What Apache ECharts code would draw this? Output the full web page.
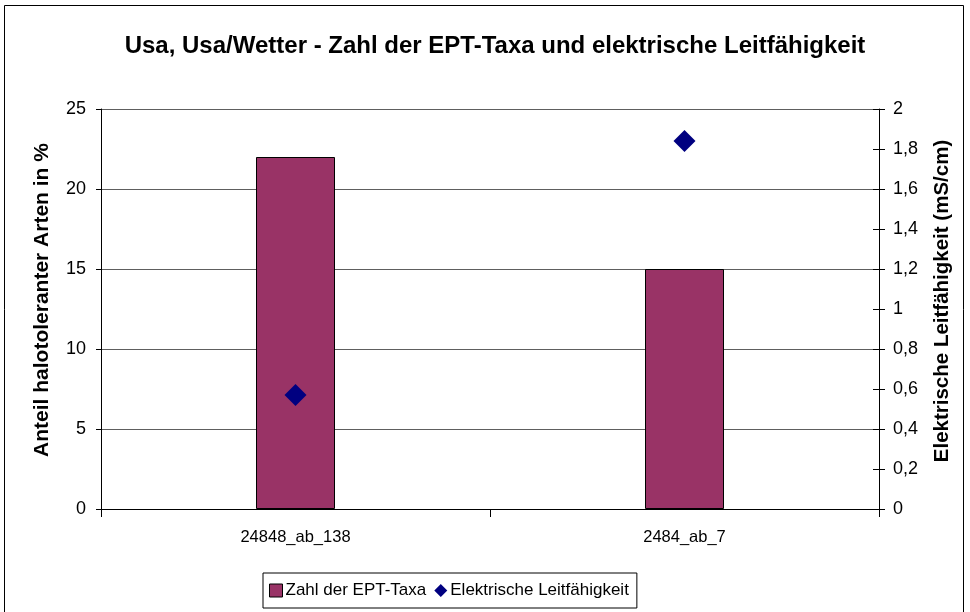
<!DOCTYPE html>
<html>
<head>
<meta charset="utf-8">
<script src="https://cdn.jsdelivr.net/npm/echarts@6/dist/echarts.min.js"></script>
<style>
  html, body { margin: 0; padding: 0; background: #fff; }
  #chart { width: 970px; height: 612px; }
</style>
</head>
<body>
<div id="chart"></div>
<script>
// Sampling sites
const categories = ['24848_ab_138', '2484_ab_7'];
// Number of EPT taxa (left axis)
const eptTaxa = [22, 15];
// Electrical conductivity in mS/cm (right axis)
const conductivity = [0.57, 1.84];

const font = 'Liberation Sans, Arial, sans-serif';
const chart = echarts.init(document.getElementById('chart'));

const fmtComma = v => String(Math.round(v * 10) / 10).replace('.', ',');

chart.setOption({
  backgroundColor: '#ffffff',
  animation: false,
  title: {
    text: 'Usa, Usa/Wetter - Zahl der EPT-Taxa und elektrische Leitfähigkeit',
    left: 490, top: 29, textAlign: 'center',
    textStyle: { fontFamily: font, fontSize: 24, fontWeight: 'bold', color: '#000' }
  },
  graphic: [{
    type: 'rect', shape: { x: 4.5, y: 5.5, width: 959, height: 620 },
    style: { fill: null, stroke: '#000', lineWidth: 1 }, silent: true, z: -1
  }],
  grid: { left: 101, right: 91, top: 109, bottom: 103, containLabel: false },
  legend: {
    left: 263, top: 573, padding: [9, 8, 9, 6],
    borderColor: '#000', borderWidth: 1, borderRadius: 0,
    itemGap: 8, itemWidth: 13, itemHeight: 13,
    textStyle: { fontFamily: font, fontSize: 17, color: '#000', padding: [0, 0, 0, -2] },
    data: [
      { name: 'Zahl der EPT-Taxa', icon: 'rect', itemStyle: { borderColor: '#000', borderWidth: 1 } },
      { name: 'Elektrische Leitfähigkeit', icon: 'diamond', itemStyle: { opacity: 1 } }
    ]
  },
  xAxis: {
    type: 'category', data: categories,
    axisLine: { lineStyle: { color: '#000', width: 1 } },
    axisTick: { show: true, length: 8, lineStyle: { color: '#000' } },
    axisLabel: { fontFamily: font, fontSize: 16.5, color: '#000', margin: 20 }
  },
  yAxis: [
    {
      type: 'value', min: 0, max: 25, interval: 5, position: 'left',
      name: 'Anteil halotoleranter Arten in %', nameLocation: 'middle', nameGap: 48,
      nameTextStyle: { fontFamily: font, fontSize: 21, fontWeight: 'bold', color: '#000',
                       padding: [0, 0, 0, 18] },
      axisLine: { show: true, lineStyle: { color: '#000' } },
      axisTick: { show: true, length: 5, lineStyle: { color: '#000' } },
      axisLabel: { fontFamily: font, fontSize: 18, color: '#000', margin: 15 },
      splitLine: { show: true, lineStyle: { color: '#5e5e5e', width: 1 } }
    },
    {
      type: 'value', min: 0, max: 2, interval: 0.2, position: 'right',
      name: 'Elektrische Leitfähigkeit (mS/cm)', nameLocation: 'middle', nameGap: 53,
      nameRotate: 90,
      nameTextStyle: { fontFamily: font, fontSize: 20.5, fontWeight: 'bold', color: '#000',
                       padding: [0, 0, 0, 16] },
      axisLine: { show: true, lineStyle: { color: '#000' } },
      axisTick: { show: true, length: 6, lineStyle: { color: '#000' } },
      axisLabel: { fontFamily: font, fontSize: 18, color: '#000', margin: 14, formatter: fmtComma },
      splitLine: { show: false }
    },
    {
      // inner half of the crossing ticks on the right axis
      type: 'value', min: 0, max: 2, interval: 0.2, position: 'right',
      axisLine: { show: false },
      axisTick: { show: true, inside: true, length: 6, lineStyle: { color: '#000' } },
      axisLabel: { show: false },
      splitLine: { show: false }
    }
  ],
  series: [
    {
      name: 'Zahl der EPT-Taxa', type: 'bar', yAxisIndex: 0, data: eptTaxa,
      barWidth: 79,
      itemStyle: { color: '#993366', borderColor: '#000', borderWidth: 1 }
    },
    {
      name: 'Elektrische Leitfähigkeit', type: 'scatter', yAxisIndex: 1, data: conductivity,
      symbol: 'diamond', symbolSize: 22,
      itemStyle: { color: '#000080', opacity: 1 }, z: 5
    }
  ]
});
</script>
</body>
</html>
